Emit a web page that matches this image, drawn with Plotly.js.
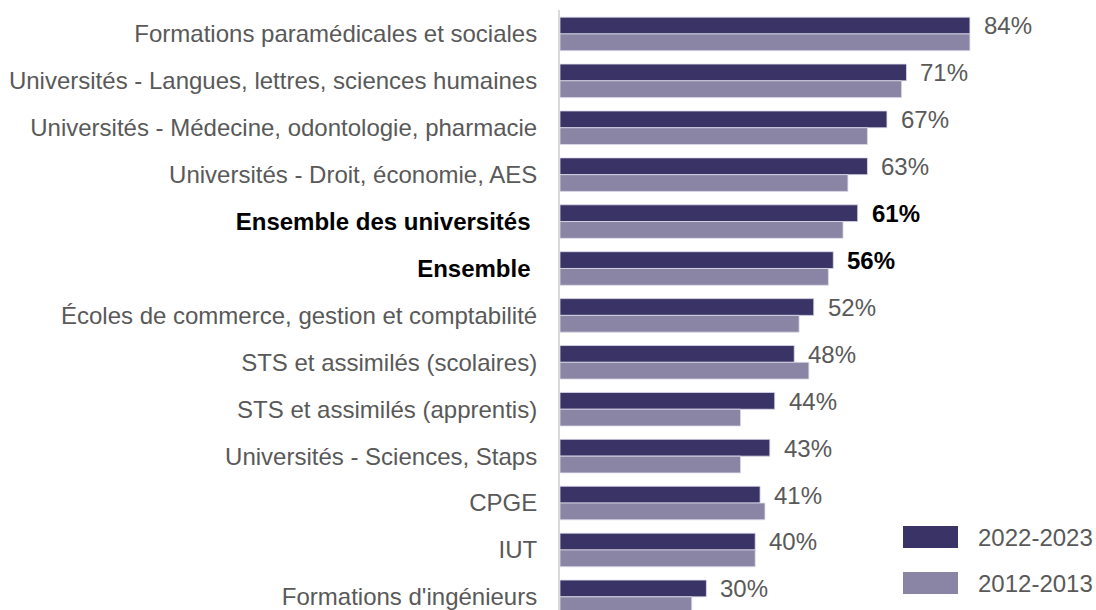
<!DOCTYPE html>
<html>
<head>
<meta charset="utf-8">
<script src="https://cdn.plot.ly/plotly-3.0.1.min.js"></script>
<style>html,body{margin:0;padding:0;background:#fff;}</style>
</head>
<body>
<div id="chart" style="width:1096px;height:610px;"></div>
<script>
var categories = [
  "Formations paramédicales et sociales",
  "Universités - Langues, lettres, sciences humaines",
  "Universités - Médecine, odontologie, pharmacie",
  "Universités - Droit, économie, AES",
  "Ensemble des universités",
  "Ensemble",
  "Écoles de commerce, gestion et comptabilité",
  "STS et assimilés (scolaires)",
  "STS et assimilés (apprentis)",
  "Universités - Sciences, Staps",
  "CPGE",
  "IUT",
  "Formations d'ingénieurs"
];
var boldCategories = ["Ensemble des universités", "Ensemble"];
var values2022 = [84, 71, 67, 63, 61, 56, 52, 48, 44, 43, 41, 40, 30];
var values2012 = [84, 70, 63, 59, 58, 55, 49, 51, 37, 37, 42, 40, 27];
var seriesNames = ["2022-2023", "2012-2013"];

var darkColor = "#3a3366";
var lightColor = "#8a85a4";
var textGray = "#595959";
var fontFam = "'Liberation Sans', Arial, sans-serif";
var fs = 24;

var tickText = categories.map(function (c) {
  return boldCategories.indexOf(c) >= 0 ? '<b><span style="color:#000">' + c + '</span></b>\u00a0' : c;
});

var traces = [
  {type: "bar", orientation: "h", name: seriesNames[0], y: categories, x: values2022,
   marker: {color: darkColor, line: {color: "#dcdaea", width: 0.8}}, hoverinfo: "x+y", showlegend: false},
  {type: "bar", orientation: "h", name: seriesNames[1], y: categories, x: values2012,
   marker: {color: lightColor, line: {color: "#dcdaea", width: 0.8}}, hoverinfo: "x+y", showlegend: false}
];

var annotations = categories.map(function (c, i) {
  var b = boldCategories.indexOf(c) >= 0;
  return {
    x: values2022[i], y: c, xref: "x", yref: "y",
    text: b ? "<b>" + values2022[i] + "%</b>" : values2022[i] + "%",
    showarrow: false, xanchor: "left", yanchor: "middle",
    xshift: 12, yshift: 8,
    font: {family: fontFam, size: fs, color: b ? "#000" : textGray}
  };
});

var shapes = [];
var legendItems = [
  {name: seriesNames[0], color: darkColor, top: 526},
  {name: seriesNames[1], color: lightColor, top: 572}
];
legendItems.forEach(function (it) {
  // pixel -> paper coords (plot area: x 560..1048, y 10..610)
  var px0 = (903 - 560) / 488, px1 = (958 - 560) / 488;
  var py0 = (610 - (it.top + 22)) / 600, py1 = (610 - it.top) / 600;
  shapes.push({type: "rect", xref: "paper", yref: "paper", x0: px0, x1: px1, y0: py0, y1: py1,
               fillcolor: it.color, line: {width: 0}});
  annotations.push({xref: "paper", yref: "paper", x: (976 - 560) / 488, y: (610 - (it.top + 11)) / 600,
                    xanchor: "left", yanchor: "middle", showarrow: false, text: it.name,
                    font: {family: fontFam, size: fs, color: textGray}});
});

var layout = {
  width: 1096, height: 610,
  margin: {l: 560, r: 48, t: 10, b: 0, pad: 0},
  paper_bgcolor: "#fff", plot_bgcolor: "#fff",
  barmode: "group", bargap: 0.285, bargroupgap: 0,
  font: {family: fontFam, size: fs, color: textGray},
  xaxis: {range: [0, 100], visible: false, showgrid: false, zeroline: false, fixedrange: true},
  yaxis: {
    type: "category", range: [12.28, -0.51], autorange: false,
    tickmode: "array", tickvals: categories, ticktext: tickText,
    ticks: "", ticklabelstandoff: 16,
    showline: true, linecolor: "#d9d9d9", linewidth: 2,
    showgrid: false, zeroline: false, fixedrange: true,
    tickfont: {family: fontFam, size: fs, color: textGray}
  },
  showlegend: false,
  annotations: annotations,
  shapes: shapes
};

Plotly.newPlot("chart", traces, layout, {displayModeBar: false, staticPlot: true});
</script>
</body>
</html>
